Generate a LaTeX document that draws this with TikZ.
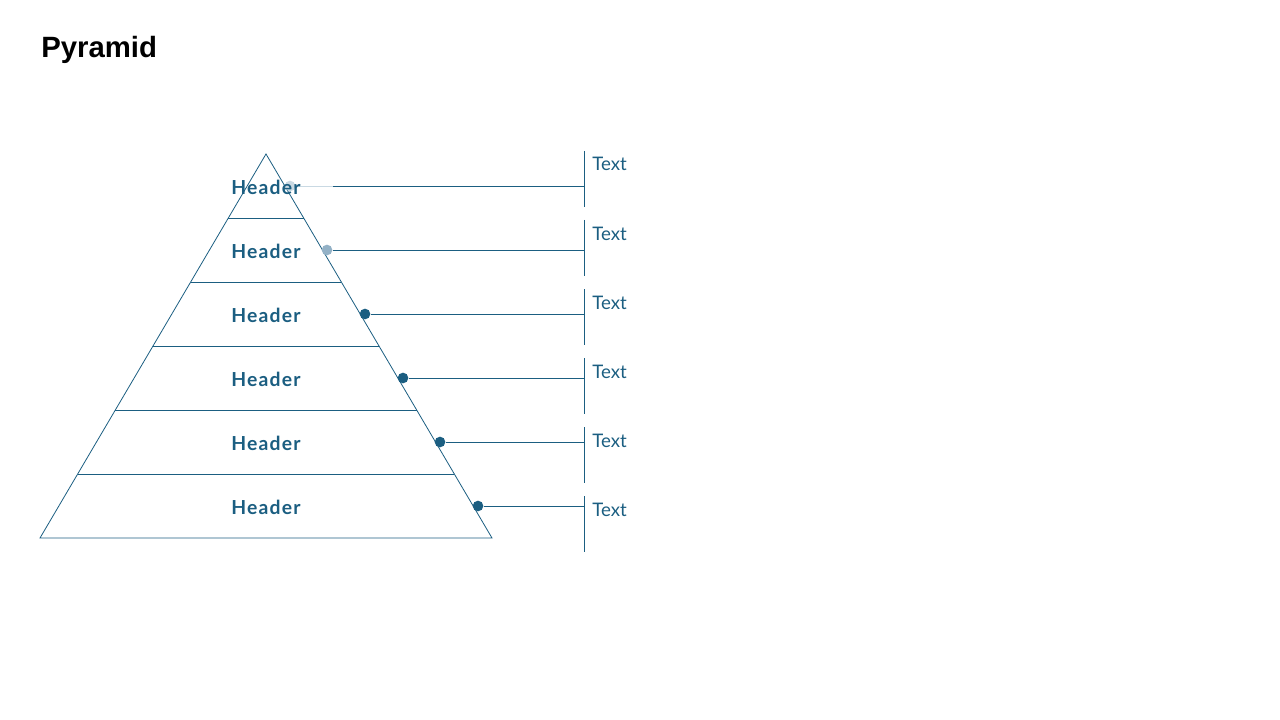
\documentclass[tikz,border=0pt]{standalone}
\usepackage{fontspec}
\setmainfont{Lato}
\newfontfamily\titlefont{Liberation Sans}
\newfontfamily\hdrfont[LetterSpace=6]{Lato}
\begin{document}
\begin{tikzpicture}[x=0.75pt,y=-0.75pt,
  dk/.style={draw=pyr,line width=0.6pt},
  hdr/.style={text=pyr,font=\hdrfont\fontsize{14.5}{16}\selectfont\bfseries,inner sep=0pt},
  lbl/.style={text=pyr,font=\fontsize{14}{15}\selectfont,anchor=base west,inner sep=0pt},
  dot/.style={circle,fill=pyr,inner sep=0pt,minimum size=8pt},
  ltdot/.style={circle,fill=pyrlight,inner sep=0pt,minimum size=8pt}]
\definecolor{pyr}{HTML}{1B5E81}
\definecolor{pyrlight}{HTML}{93B1C6}
\definecolor{pyrpale}{HTML}{C9D9E3}
\useasboundingbox (0,0) rectangle (1280,720);
\node[anchor=base west,inner sep=0pt,font=\titlefont\fontsize{22}{24}\selectfont\bfseries] (title) at (41,58) {Pyramid};
% pyramid outline
\coordinate (apex) at (266,154);
\coordinate (bl) at (40,538);
\coordinate (br) at (492,538);
\draw[dk] (bl) -- (apex) -- (br) -- cycle;
% layer lines
\foreach \y in {218,282,346,410,474}{
  \pgfmathsetmacro{\dx}{(\y-154)*0.588542}
  \draw[dk] (266-\dx,\y) -- (266+\dx,\y);
}
% brackets and labels
\foreach \t/\n in {151/1,220/2,289/3,358/4,427/5,496/6}{
  \coordinate (bt\n) at (584,\t);
  \coordinate (bb\n) at (584,\t+56);
  \draw[dk] (bt\n) -- (bb\n);
  \node[lbl] (t\n) at (592,\t+20) {Text};
}
% connectors
\coordinate (c1) at (584,186);
\coordinate (c2) at (584,250);
\coordinate (c3) at (584,314);
\coordinate (c4) at (584,378);
\coordinate (c5) at (584,442);
\coordinate (c6) at (584,506);
\node[circle,fill=pyrpale,inner sep=0pt,minimum size=8pt] (d1) at (290,186) {};
\node[ltdot] (d2) at (327,250) {};
\node[dot] (d3) at (365,314) {};
\node[dot] (d4) at (403,378) {};
\node[dot] (d5) at (440,442) {};
\node[dot] (d6) at (478,506) {};
\coordinate (m1) at (333,186);
\draw[draw=pyrpale,line width=0.6pt] (d1) -- (m1);
\draw[dk] (m1) -- (c1);
\draw[dk] (d2) -- (c2);
\draw[dk] (d3) -- (c3);
\draw[dk] (d4) -- (c4);
\draw[dk] (d5) -- (c5);
\draw[dk] (d6) -- (c6);
% headers
\foreach \y/\n in {187/h1,251/h2,315/h3,379/h4,443/h5,507/h6}{
  \node[hdr] (\n) at (266,\y) {Header};
}
\end{tikzpicture}
\end{document}
